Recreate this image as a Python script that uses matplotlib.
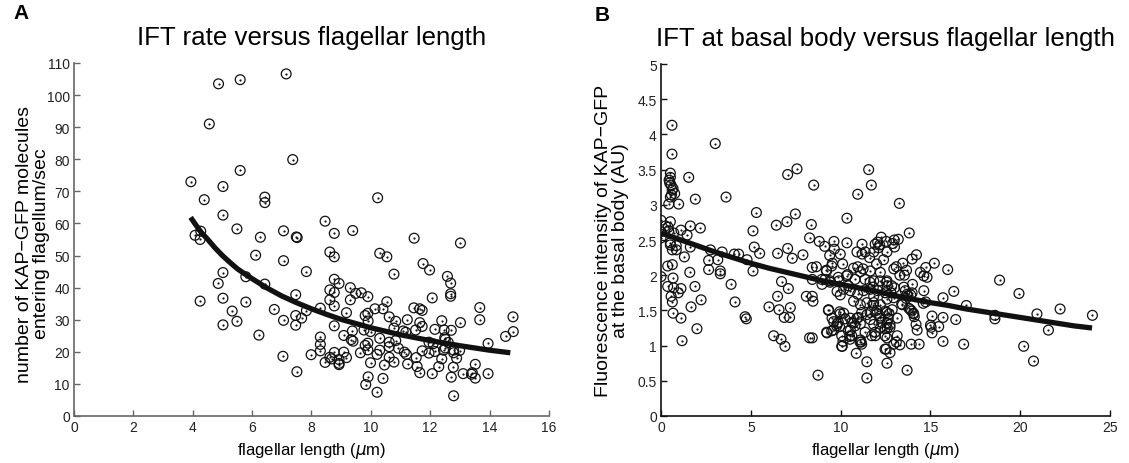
import numpy as np
import matplotlib
matplotlib.use("Agg")
import matplotlib.pyplot as plt

plt.rcParams['font.family'] = ['Liberation Sans', 'DejaVu Sans']

# ---- panel A : IFT rate vs flagellar length ----
a_len = [7.15, 5.60, 4.87, 4.56, 7.37, 5.60, 3.94, 5.02, 4.39, 6.43, 6.43, 5.02, 5.49, 7.06,
         6.28, 7.49, 7.52, 8.46, 8.77, 9.39, 4.08, 4.25, 4.27,
         10.23, 11.46, 13.02,
         6.12, 7.06, 8.62, 8.77, 5.02, 7.83, 4.86, 5.79, 6.43, 8.77, 8.93, 8.62, 8.77, 9.31,
         9.49, 7.47, 4.25, 5.02, 5.79, 8.62, 8.77, 9.31, 5.33, 6.75, 7.83, 8.30, 9.18, 5.49,
         5.02, 7.06, 7.47, 7.67, 7.47, 8.77, 6.23, 8.30, 9.09, 9.38, 9.34, 9.40, 8.30, 8.30,
         8.77, 9.09, 9.65, 7.99, 7.04, 8.62, 8.68, 9.18, 8.93, 8.93, 8.93, 8.46, 7.51,
         10.30, 10.54, 11.76, 11.98, 10.78, 12.58, 12.69, 12.69, 12.69, 12.07, 9.90, 9.68,
         10.54, 10.14, 10.41, 11.45, 11.65, 11.73, 13.67, 9.81, 9.90, 10.62, 10.84, 11.23,
         9.91, 12.39, 13.02, 13.67, 14.79, 11.65, 11.73, 10.78, 11.09, 11.18, 9.77, 9.99,
         11.51, 12.16, 12.47, 12.71, 14.80, 14.54, 13.95, 10.30, 10.62, 10.62, 10.84, 10.93,
         11.13, 11.20, 11.96, 12.10, 12.49, 12.51, 12.51, 12.45, 12.79, 12.79, 12.99, 12.61,
         11.73, 11.96, 12.16, 10.30, 10.21, 9.90, 9.90, 9.81, 10.62, 10.78, 9.99, 10.46,
         11.24, 11.53, 11.56, 11.65, 12.07, 12.29, 12.39, 12.89, 12.78, 12.71, 13.11, 13.39,
         13.42, 13.52, 13.52, 13.95, 9.91, 10.41, 9.83, 10.21, 12.79]
a_rate = [106.6, 104.8, 103.5, 91.0, 79.9, 76.5, 73.0, 71.5, 67.4, 68.2, 66.5, 62.6, 58.3, 57.7,
          55.7, 55.8, 55.6, 60.7, 56.9, 57.8, 56.3, 55.0, 57.6,
          68.0, 55.4, 53.9,
          50.1, 48.4, 51.1, 49.6, 44.7, 45.0, 41.3, 43.4, 41.1, 42.6, 41.3, 39.3, 38.5, 40.0,
          38.2, 37.8, 35.8, 36.7, 35.5, 36.2, 34.3, 36.2, 32.7, 33.2, 32.8, 33.6, 32.2, 29.5,
          28.4, 29.8, 31.3, 30.5, 28.3, 28.1, 25.2, 24.6, 25.1, 26.5, 23.8, 23.3, 22.3, 20.3,
          19.8, 19.9, 19.7, 19.1, 18.6, 18.3, 17.8, 18.2, 17.6, 16.4, 16.0, 16.7, 13.8,
          50.7, 49.6, 47.5, 45.5, 44.2, 43.5, 41.4, 38.1, 37.3, 36.8, 37.2, 38.4,
          35.6, 33.4, 33.4, 33.7, 33.4, 32.9, 33.8, 31.3, 32.0, 30.9, 29.5, 30.0,
          29.6, 29.7, 29.1, 30.0, 30.9, 29.1, 27.9, 27.4, 26.5, 26.1, 26.8, 26.3,
          26.8, 27.0, 26.8, 26.7, 26.3, 24.8, 22.6, 24.2, 23.0, 21.6, 23.5, 21.1,
          19.9, 19.2, 23.0, 22.5, 24.4, 23.9, 21.2, 20.5, 20.5, 19.7, 20.4, 22.9,
          20.3, 19.6, 20.1, 20.5, 19.2, 22.7, 20.6, 22.0, 18.3, 16.8, 16.6, 15.9,
          16.2, 18.2, 15.4, 13.5, 13.2, 15.4, 17.8, 18.0, 15.2, 12.1, 13.2, 13.0,
          13.5, 16.1, 11.8, 13.2, 12.2, 11.7, 9.8, 7.4, 6.3]
a_fit_x = [3.93, 4.1, 4.3, 4.5, 4.75, 5, 5.25, 5.5, 5.75, 6, 6.5, 7, 7.5, 8, 8.5, 9, 9.5,
           10, 10.5, 11, 11.5, 12, 12.5, 13, 13.5, 14, 14.35, 14.7]
a_fit_y = [61.9, 59.6, 57.1, 55.1, 52.4, 50.0, 47.9, 45.9, 44.3, 42.8, 39.9, 37.4, 35.3, 33.4,
           31.7, 30.1, 28.8, 27.5, 26.4, 25.3, 24.4, 23.5, 22.7, 21.9, 21.2, 20.5, 20.1, 19.7]

# ---- panel B : IFT at basal body vs flagellar length ----
b_len = [0.61, 3.02, 0.61, 0.52, 0.52, 0.48, 0.56, 0.67, 0.76, 0.52, 0.43, 0.98, 1.54, 1.91,
         3.62, 7.05, 7.57, 8.50, 10.95, 11.56, 11.71, 5.31, 7.48, 7.01, 10.35, 6.42, 8.37,
         0.0, 0.0, 0.52, 0.43, 1.11, 1.63, 2.19, 1.45, 0.0, 0.71, 5.12, 8.27, 8.81, 9.11,
         9.63, 10.35, 11.19, 12.26, 12.54, 12.06, 12.17, 0.52, 13.27, 13.82, 12.99, 13.21,
         0.45, 0.62, 0.58, 0.40, 0.25,
         0.52, 0.63, 0.85, 0.85, 1.63, 2.75, 3.40, 3.16, 2.65, 2.65, 1.30, 0.37, 0.63, 0.0,
         1.60, 4.08, 4.32, 4.79, 5.19, 5.49, 5.12, 3.30, 3.30, 6.49, 7.05, 7.31, 7.90, 6.71,
         7.09, 3.90, 4.12, 2.23, 1.89, 0.37, 0.70, 1.11, 0.67, 0.56, 0.96, 0.63, 0.67, 1.11,
         1.67, 2.00, 1.17, 6.01, 6.57, 7.20, 6.86, 7.16, 6.49, 4.68, 4.75, 6.27, 6.68, 6.90,
         8.09, 8.42, 8.46, 8.42, 8.65, 8.27, 8.42, 8.74,
         9.39, 9.54, 9.20, 9.98, 10.11, 10.39, 10.91, 11.37, 11.61, 11.84, 12.11, 12.58,
         12.39, 12.00, 10.95, 11.25, 10.72, 11.10, 11.65, 12.21, 11.84, 12.58, 9.42, 8.96,
         9.91, 8.42, 9.80, 10.17, 10.54, 9.98, 10.72, 10.95, 11.28, 11.65, 11.84, 12.06,
         12.49, 11.10, 11.46, 11.84, 12.21, 12.58, 9.33, 9.52, 9.61, 9.94, 10.17, 9.80,
         9.94, 10.54, 10.72, 10.91, 11.10, 11.46, 11.65, 12.02, 12.21, 12.49, 11.84, 12.58,
         9.24, 9.61, 10.54, 10.50, 10.13, 10.09, 11.10, 11.14, 10.87, 11.46, 11.46, 11.93,
         12.21, 12.58, 12.54, 12.58,
         9.65, 11.92, 11.20, 9.22, 9.13, 9.50, 9.87, 8.95, 9.41, 10.33, 10.43, 10.80, 11.36,
         11.64, 11.82, 12.20, 12.56, 12.84, 9.32, 9.97, 9.87, 9.78, 10.25, 10.62, 10.80,
         10.99, 11.17, 11.64, 11.82, 12.01, 12.20, 12.29, 12.57, 12.47, 12.75, 9.22, 9.50,
         10.06, 10.43, 10.62, 11.36, 11.73, 11.92, 12.47, 10.06, 10.52, 11.08, 11.17, 12.47,
         12.75,
         14.22, 13.98, 14.44, 14.63, 14.74, 14.81, 15.22, 15.96, 13.46, 13.67, 13.30, 12.96,
         14.00, 13.52, 13.70, 13.98, 14.63, 16.30, 15.70, 14.74, 13.44, 17.00, 13.89, 14.07,
         13.15, 12.87, 15.09, 15.70, 16.41, 15.00, 15.04, 15.46, 14.26, 15.09, 13.15, 13.30,
         13.93, 14.37, 15.70, 16.85, 12.96, 13.70, 18.85, 19.93, 22.22, 20.93, 18.59, 18.59,
         24.02, 21.57, 20.19, 20.74,
         13.00, 12.90, 13.10, 13.55, 12.60, 12.80, 12.95, 13.00, 13.60, 13.75, 13.65, 13.90,
         14.60, 13.40, 13.80, 13.95, 14.05, 14.10, 12.70, 12.65, 12.75, 12.60, 14.20, 13.10]
b_fluor = [4.13, 3.87, 3.72, 3.45, 3.39, 3.31, 3.28, 3.23, 3.16, 3.11, 3.01, 3.01, 3.39, 3.08,
           3.11, 3.43, 3.51, 3.28, 3.15, 3.50, 3.28, 2.89, 2.87, 2.76, 2.81, 2.71, 2.72,
           2.78, 2.62, 2.76, 2.63, 2.64, 2.70, 2.67, 2.57, 2.53, 2.60, 2.63, 2.53, 2.48, 2.41,
           2.48, 2.46, 2.44, 2.54, 2.48, 2.47, 2.43, 2.43, 3.02, 2.60, 2.50, 2.51,
           3.35, 3.21, 3.14, 2.68, 2.70,
           2.46, 2.36, 2.42, 2.36, 2.40, 2.36, 2.33, 2.22, 2.21, 2.08, 2.26, 2.13, 2.15, 1.98,
           2.04, 2.30, 2.30, 2.22, 2.40, 2.31, 2.06, 2.06, 2.02, 2.31, 2.38, 2.24, 2.29, 1.91,
           1.81, 1.87, 1.62, 1.65, 1.84, 1.84, 1.82, 1.81, 1.96, 1.70, 1.75, 1.62, 1.46, 1.39,
           1.55, 1.24, 1.07, 1.55, 1.51, 1.54, 1.40, 1.40, 1.70, 1.41, 1.38, 1.14, 1.09, 0.99,
           1.70, 1.70, 1.63, 2.11, 2.12, 1.11, 1.11, 0.58,
           2.28, 2.17, 2.07, 2.30, 2.16, 2.01, 2.33, 2.33, 2.25, 2.33, 2.39, 2.33,
           2.22, 2.16, 2.12, 2.09, 2.10, 2.05, 2.06, 2.04, 1.92, 1.92, 1.92, 1.87,
           1.92, 1.94, 1.77, 1.80, 1.78, 1.72, 1.63, 1.73, 1.78, 1.80, 1.70, 1.78,
           1.75, 1.58, 1.61, 1.61, 1.58, 1.66, 1.51, 1.39, 1.34, 1.48, 1.46, 1.31,
           1.27, 1.39, 1.32, 1.39, 1.31, 1.44, 1.37, 1.46, 1.39, 1.49, 1.30, 1.32,
           1.18, 1.22, 1.22, 1.13, 1.06, 0.99, 1.08, 1.05, 0.89, 0.77, 0.54, 1.14,
           1.25, 1.11, 0.95, 0.75,
           2.37, 2.44, 2.30, 2.06, 1.94, 2.13, 1.97, 1.94, 1.90, 1.99, 1.85, 1.94, 1.94,
           1.90, 1.83, 1.92, 1.90, 1.85, 1.50, 1.45, 1.33, 1.28, 1.38, 1.33, 1.28,
           1.40, 1.47, 1.47, 1.57, 1.50, 1.42, 1.33, 1.47, 1.24, 1.26, 1.19, 1.21,
           1.14, 1.21, 1.14, 1.19, 1.14, 1.19, 1.14, 0.99, 1.09, 1.05, 1.02, 0.95,
           0.90,
           2.29, 2.23, 2.04, 1.99, 2.11, 1.97, 2.17, 2.08, 2.17, 2.07, 2.00, 2.09,
           1.87, 1.83, 1.73, 1.75, 1.78, 1.77, 1.68, 1.62, 1.58, 1.57, 1.51, 1.45,
           1.39, 1.51, 1.42, 1.40, 1.37, 1.29, 1.26, 1.27, 1.22, 1.18, 1.14, 1.01,
           1.02, 1.02, 1.06, 1.02, 1.02, 0.65, 1.93, 1.74, 1.52, 1.45, 1.43, 1.38,
           1.43, 1.22, 0.99, 0.78,
           2.40, 2.45, 2.12, 2.00, 1.85, 1.75, 1.68, 1.82, 1.78, 1.70, 1.67, 1.72,
           1.60, 1.59, 1.53, 1.49, 1.46, 1.41, 1.45, 1.38, 1.30, 1.25, 1.30, 1.05]
b_fit_x = [0, 1, 2, 3, 4, 5, 6, 7, 8, 9, 10, 11, 12, 13, 14, 15, 16, 17, 18, 19, 20, 21, 22, 23, 24]
b_fit_y = [2.60, 2.51, 2.42, 2.33, 2.25, 2.17, 2.10, 2.04, 1.98, 1.92, 1.87, 1.82, 1.77, 1.71,
           1.66, 1.61, 1.57, 1.52, 1.48, 1.44, 1.40, 1.36, 1.32, 1.28, 1.25]

fig = plt.figure(figsize=(11.29, 4.64), dpi=100)
axA = fig.add_axes([0.0655, 0.1013, 0.4207, 0.7608])
axB = fig.add_axes([0.5855, 0.1013, 0.3977, 0.7586])


def rings(ax, x, y):
    ax.scatter(x, y, s=50, facecolors='none', edgecolors='#111111', linewidths=0.9, zorder=2)
    ax.scatter(x, y, s=2.5, color='#111111', linewidths=0, zorder=2)


def style(ax, col):
    for side in ['top', 'right']:
        ax.spines[side].set_visible(False)
    for side in ['left', 'bottom']:
        ax.spines[side].set_color(col)
        ax.spines[side].set_linewidth(1.2)
    ax.tick_params(direction='in', length=4, width=1, colors=col, labelsize=10,
                   labelcolor='#222222', pad=3)


rings(axA, a_len, a_rate)
axA.plot(a_fit_x, a_fit_y, color='#111111', lw=3.8, solid_capstyle='butt', zorder=3)
axA.set_xlim(0, 16)
axA.set_ylim(0, 110)
axA.set_xticks(np.arange(0, 17, 2))
axA.set_yticks(np.arange(0, 111, 10))
style(axA, '#666666')
axA.set_xlabel('flagellar length ($\\mu$m)', fontsize=12, labelpad=4)
axA.set_ylabel('number of KAP\u2212GFP molecules\nentering flagellum/sec', fontsize=14,
               linespacing=1.05)
axA.yaxis.set_label_coords(-0.05, 0.49)
axA.set_title('IFT rate versus flagellar length', fontsize=18.6, pad=14)

rings(axB, b_len, b_fluor)
axB.plot(b_fit_x, b_fit_y, color='#111111', lw=3.8, solid_capstyle='butt', zorder=3)
axB.set_xlim(0, 25)
axB.set_ylim(0, 5)
axB.set_xticks(np.arange(0, 26, 5))
axB.set_yticks(np.arange(0, 5.01, 0.5))
axB.set_yticklabels(['0', '0.5', '1', '1.5', '2', '2.5', '3', '3.5', '4', '4.5', '5'])
style(axB, '#111111')
axB.set_xlabel('flagellar length ($\\mu$m)', fontsize=12, labelpad=4)
axB.set_ylabel('Fluorescence intensity of KAP\u2212GFP\nat the basal body (AU)', fontsize=14,
               labelpad=6, linespacing=1.05)
axB.set_title('IFT at basal body versus flagellar length', fontsize=18.6, pad=14)

fig.text(0.012, 0.958, 'A', fontsize=15, fontweight='bold')
fig.text(0.527, 0.955, 'B', fontsize=15, fontweight='bold')

fig.savefig('out.png', dpi=100)
